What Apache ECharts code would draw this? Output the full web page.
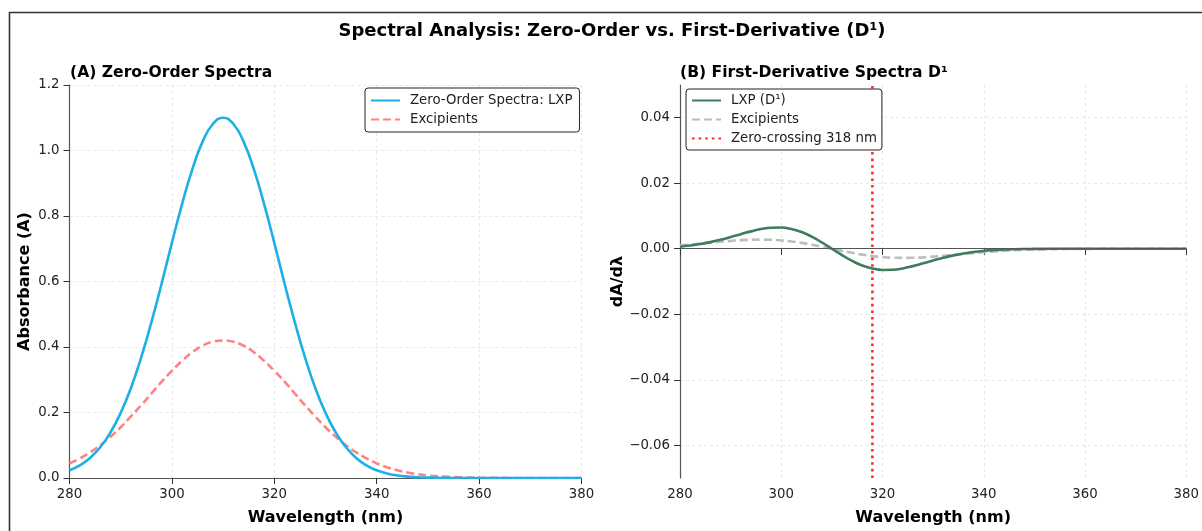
<!DOCTYPE html>
<html>
<head>
<meta charset="utf-8">
<script src="https://cdn.jsdelivr.net/npm/echarts@6/dist/echarts.min.js"></script>
<style>
html,body{margin:0;padding:0;background:#fff;}
#chart{width:1202px;height:531px;}
</style>
</head>
<body>
<div id="chart"></div>
<script>
// ---- Data ----
const wavelengths = [280,282,284,286,288,290,292,294,296,298,300,302,304,306,308,310,312,314,316,318,320,322,324,326,328,330,332,334,336,338,340,342,344,346,348,350,352,354,356,358,360,362,364,366,368,370,372,374,376,378,380];

const lxpAbsorbance = [0.0235,0.0386,0.0612,0.0938,0.139,0.199,0.275,0.368,0.476,0.594,0.718,0.837,0.943,1.027,1.081,1.100,1.081,1.027,0.943,0.837,0.718,0.594,0.476,0.368,0.275,0.199,0.139,0.0938,0.0612,0.0386,0.0235,0.0138,0.0079,0.0043,0.0023,0.0012,0.0006,0.0003,0.0001,0,0,0,0,0,0,0,0,0,0,0,0];

const excipientAbsorbance = [0.0448,0.0597,0.0782,0.1002,0.126,0.155,0.188,0.222,0.258,0.294,0.327,0.358,0.384,0.404,0.416,0.420,0.416,0.404,0.384,0.358,0.327,0.294,0.258,0.222,0.188,0.155,0.126,0.1002,0.0782,0.0597,0.0448,0.0329,0.0237,0.0167,0.0116,0.0078,0.0052,0.0034,0.0022,0.0014,0.0008,0.0005,0.0003,0.0002,0.0001,0.0001,0,0,0,0,0];

const lxpD1 = [0.000635,0.000974,0.001434,0.002028,0.002755,0.003586,0.004459,0.005305,0.006004,0.006422,0.006468,0.006032,0.005097,0.003701,0.001948,0,-0.001948,-0.003701,-0.005097,-0.006032,-0.006468,-0.006422,-0.006004,-0.005305,-0.004459,-0.003586,-0.002755,-0.002028,-0.001434,-0.000974,-0.000635,-0.000398,-0.000242,-0.000139,-0.000079,-0.000043,-0.000023,-0.000012,-0.000004,0,0,0,0,0,0,0,0,0,0,0,0];

const excipientD1 = [0.00104,0.0013,0.00158,0.00186,0.00215,0.0024,0.00262,0.00275,0.0028,0.00274,0.00254,0.00222,0.00179,0.00125,0.00065,0,-0.00065,-0.00125,-0.00179,-0.00222,-0.00254,-0.00274,-0.0028,-0.00275,-0.00262,-0.0024,-0.00215,-0.00186,-0.00158,-0.0013,-0.00104,-0.00082,-0.00063,-0.00047,-0.00034,-0.00024,-0.00017,-0.00012,-0.00008,-0.00005,-0.00003,-0.00002,-0.00001,-0.00001,0,0,0,0,0,0,0];

const zeroCrossing = 318;
const xTicks = [280,300,320,340,360,380];
const absTicks = [0.0,0.2,0.4,0.6,0.8,1.0,1.2];
const d1Ticks = [-0.06,-0.04,-0.02,0.00,0.02,0.04];
const d1Range = [-0.07, 0.05];

// ---- Chart ----
const FONT = 'DejaVu Sans';
const pair = (xs, ys) => xs.map((x, i) => [x, ys[i]]);
const fmtMinus = s => s.replace('-', '\u2212');

const gridLine = { show: true, lineStyle: { color: '#e3e3e3', type: [3, 3], width: 0.8 } };
const axisLine = { show: true, lineStyle: { color: '#555', width: 1.2 } };
const axisTick = { show: true, length: 6, inside: false, lineStyle: { color: '#333', width: 1 } };
const labelStyle = { color: '#222', fontFamily: FONT, fontSize: 13.3 };
const nameStyle = { color: '#000', fontFamily: FONT, fontSize: 16, fontWeight: 'bold' };
const legendBase = {
  orient: 'vertical', itemWidth: 29, itemHeight: 14, itemGap: 6, z: 20,
  backgroundColor: '#fff', borderColor: '#222', borderWidth: 1, borderRadius: 3,
  itemStyle: { opacity: 0 },
  textStyle: { fontFamily: FONT, fontSize: 13.3, color: '#222', padding: [0, 0, 0, 5] }
};

function xAxisFor(gridIndex) {
  return {
    type: 'value', gridIndex, min: xTicks[0], max: xTicks[xTicks.length - 1], interval: 20,
    name: 'Wavelength (nm)', nameLocation: 'middle', nameGap: 32, nameTextStyle: nameStyle,
    axisLine, axisTick, splitLine: gridLine,
    axisLabel: Object.assign({ margin: 10, formatter: v => String(v) }, labelStyle)
  };
}

const chart = echarts.init(document.getElementById('chart'), null, { renderer: 'canvas' });
chart.setOption({
  animation: false,
  backgroundColor: '#fff',
  textStyle: { fontFamily: FONT },
  graphic: [{
    type: 'rect', silent: true, z: 100,
    shape: { x: 9.5, y: 12.5, width: 1400, height: 700 },
    style: { fill: null, stroke: '#333', lineWidth: 1.6 }
  }],
  title: [
    { text: 'Spectral Analysis: Zero-Order vs. First-Derivative (D\u00b9)', left: 607, top: 17, textAlign: 'center',
      textStyle: { fontFamily: FONT, fontSize: 18, fontWeight: 'bold', color: '#000' } },
    { text: '(A) Zero-Order Spectra', left: 65, top: 60,
      textStyle: { fontFamily: FONT, fontSize: 15.6, fontWeight: 'bold', color: '#000' } },
    { text: '(B) First-Derivative Spectra D\u00b9', left: 675, top: 60,
      textStyle: { fontFamily: FONT, fontSize: 15.6, fontWeight: 'bold', color: '#000' } }
  ],
  legend: [
    Object.assign({}, legendBase, { data: ['Zero-Order Spectra: LXP', 'Excipients'], left: 365, top: 88,
      padding: [6, 7, 6, 5] }),
    Object.assign({}, legendBase, { data: ['LXP (D\u00b9)', 'Excipients (D1)', 'Zero-crossing 318 nm'], left: 686, top: 89,
      padding: [5, 5, 5, 5],
      formatter: n => n === 'Excipients (D1)' ? 'Excipients' : n })
  ],
  grid: [
    { left: 69.5, top: 85, width: 512, height: 400, containLabel: false },
    { left: 680, top: 85, width: 513, height: 400, containLabel: false }
  ],
  xAxis: [xAxisFor(0), xAxisFor(1)],
  yAxis: [
    { type: 'value', gridIndex: 0, min: 0, max: 1.2, interval: 0.2,
      name: 'Absorbance (A)', nameLocation: 'middle', nameGap: 37, nameTextStyle: nameStyle,
      axisLine, axisTick, splitLine: gridLine,
      axisLabel: Object.assign({ margin: 10, formatter: v => v.toFixed(1) }, labelStyle) },
    { type: 'value', gridIndex: 1, min: d1Range[0], max: d1Range[1],
      name: 'dA/d\u03bb', nameLocation: 'middle', nameGap: 44, nameTextStyle: nameStyle,
      axisLine, splitLine: gridLine,
      axisTick: Object.assign({ customValues: d1Ticks }, axisTick),
      axisLabel: Object.assign({ margin: 10, customValues: d1Ticks, formatter: v => fmtMinus(v.toFixed(2)) }, labelStyle) }
  ],
  series: [
    { name: 'Excipients', type: 'line', xAxisIndex: 0, yAxisIndex: 0, data: pair(wavelengths, excipientAbsorbance),
      smooth: true, symbol: 'none', z: 3,
      lineStyle: { color: '#ff8282', width: 2.6, type: [8, 4] }, itemStyle: { color: '#ff8282' } },
    { name: 'Zero-Order Spectra: LXP', type: 'line', xAxisIndex: 0, yAxisIndex: 0, data: pair(wavelengths, lxpAbsorbance),
      smooth: true, symbol: 'none', z: 4,
      lineStyle: { color: '#1db0e6', width: 2.6 }, itemStyle: { color: '#1db0e6' } },
    { name: 'Excipients (D1)', type: 'line', xAxisIndex: 1, yAxisIndex: 1, data: pair(wavelengths, excipientD1),
      smooth: true, symbol: 'none', z: 3,
      lineStyle: { color: '#bdbdbd', width: 2.6, type: [8, 4] }, itemStyle: { color: '#bdbdbd' } },
    { name: 'LXP (D\u00b9)', type: 'line', xAxisIndex: 1, yAxisIndex: 1, data: pair(wavelengths, lxpD1),
      smooth: true, symbol: 'none', z: 4,
      lineStyle: { color: '#3e7d5c', width: 2.6 }, itemStyle: { color: '#3e7d5c' },
      markLine: { silent: true, symbol: 'none', label: { show: false },
        lineStyle: { color: '#555', width: 0.9, type: 'solid' }, data: [{ yAxis: 0 }] } },
    { name: 'Zero-crossing 318 nm', type: 'line', xAxisIndex: 1, yAxisIndex: 1,
      data: [[zeroCrossing, d1Range[0]], [zeroCrossing, d1Range[1]]],
      symbol: 'none', z: 5,
      lineStyle: { color: '#ff2b2b', width: 2.6, type: [2.6, 4] }, itemStyle: { color: '#ff2b2b' } }
  ]
});
</script>
</body>
</html>
